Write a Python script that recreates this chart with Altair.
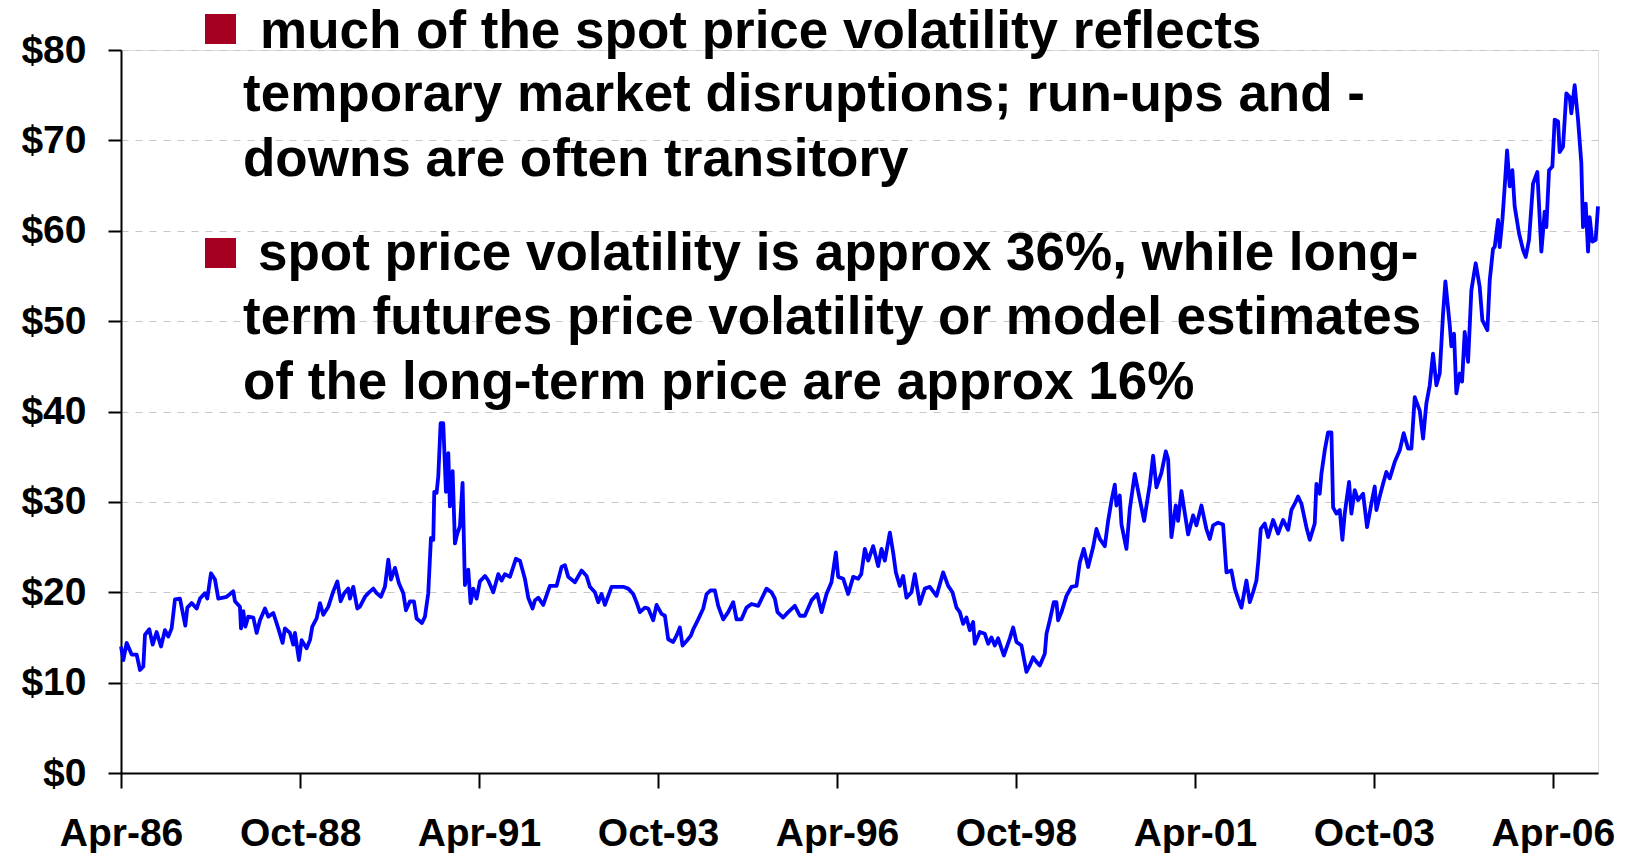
import altair as alt
import pandas as pd

# ---- data (months since Apr-1986, spot price $/bbl) ----
# months were read with a 6.0 px/month ruler; the reference axis measures 5.967 px/month
months = [
    0.0, 0.39, 0.94, 1.78, 2.61, 3.17, 3.72, 4.0, 4.72, 5.28,
    5.94, 6.67, 7.33, 7.89, 8.44, 9.0, 9.83, 10.72, 11.06, 11.78,
    12.61, 13.17, 14.0, 14.39, 15.0, 15.67, 16.22, 17.61, 18.72, 19.0,
    19.83, 20.0, 20.39, 20.72, 21.22, 22.06, 22.61, 23.17, 24.0, 24.56,
    25.39, 26.22, 26.94, 27.33, 28.17, 28.72, 29.0, 29.67, 30.11, 30.94,
    31.5, 31.89, 32.61, 33.17, 33.72, 34.56, 35.39, 36.06, 36.61, 37.22,
    37.89, 38.17, 38.72, 39.39, 39.83, 40.67, 41.22, 42.06, 42.61, 43.33,
    44.0, 44.56, 45.0, 45.67, 46.33, 47.06, 47.5, 48.17, 48.83, 49.28,
    50.17, 50.67, 51.22, 51.67, 52.06, 52.22, 52.61, 52.89, 53.28, 53.72,
    54.17, 54.56, 54.83, 55.28, 55.67, 56.06, 56.5, 56.94, 57.33, 57.89,
    58.28, 58.72, 59.28, 59.83,
    60.67, 61.22, 62.06, 62.89, 63.44, 64.0, 64.83, 65.83, 66.5, 67.33,
    67.89, 68.61, 69.0, 69.56, 70.39, 71.5, 72.61, 73.44, 74.0, 74.56,
    75.67, 76.78, 77.61, 78.17, 79.0, 79.56, 80.11, 80.67, 81.78, 83.72,
    84.56, 85.39, 85.94, 86.5, 87.33, 87.89, 88.72, 89.28, 90.11, 90.67,
    91.22, 92.06, 92.61, 93.17, 93.61, 94.28, 95.0, 95.39, 96.22, 97.06,
    97.61, 98.28, 99.0, 99.56, 100.39, 101.22, 102.06, 102.61, 103.44, 104.28,
    105.11, 106.22, 107.61, 108.44, 109.0, 109.44, 110.39, 111.22, 112.33, 113.17,
    114.0, 115.11, 116.06, 116.78, 117.61, 118.44, 119.17, 119.56, 120.39, 121.22,
    122.06, 122.89, 123.4,
    124.0, 124.56, 125.39, 126.22, 126.78, 127.33, 128.17, 128.72, 129.17, 129.83,
    130.39, 130.94, 131.78, 132.33, 133.17, 134.0, 134.83, 135.94, 137.06, 137.89,
    138.61, 139.28, 139.83, 140.39, 140.94, 141.5, 142.06, 142.33, 143.17, 144.0,
    144.56, 145.11, 145.67, 146.22, 147.17, 148.17, 148.72, 149.28, 150.11, 150.94,
    151.5, 152.06, 152.61, 153.17, 154.0, 154.28, 154.83, 155.5, 155.94, 156.22,
    156.78, 157.61, 158.44, 159.28, 159.83, 160.5, 161.22, 162.06, 162.61, 163.17,
    164.0, 164.56, 165.11, 165.67, 165.94, 166.5, 166.78, 167.61, 168.17, 169.0,
    169.83, 170.56, 171.5, 172.06, 172.61, 173.44, 174.17, 174.56, 175.11, 175.83,
    176.22, 176.78, 177.33, 177.89, 178.72, 179.28, 180.11, 180.94, 181.5, 182.06,
    182.89, 183.72, 184.28, 185.11, 185.67, 186.22, 186.78, 187.61, 188.17, 188.72,
    189.28, 189.6, 190.0,
    190.67, 191.22, 192.06, 192.89, 193.72, 194.56, 195.11, 195.67, 196.22, 196.78,
    197.61, 198.17, 199.0, 199.28, 199.83, 200.11, 200.67, 201.22, 201.78, 202.06,
    202.61, 203.17, 203.61, 204.0, 204.72, 205.11, 205.67, 206.22, 207.06, 207.72,
    208.44, 209.0, 209.28, 209.83, 210.39, 210.94, 211.5, 212.33, 213.17, 213.83,
    214.56, 215.11, 215.67, 216.5, 217.06, 217.61, 218.17, 218.72, 219.28, 219.83,
    220.39, 220.78, 221.5, 221.78, 222.22, 222.61, 223.17, 223.56, 224.0, 224.56,
    225.11, 225.83, 226.5, 226.94, 227.78, 228.17, 228.72, 229.0, 229.56, 229.83,
    230.28, 230.67, 231.06, 231.5, 231.94, 232.33, 233.06, 233.72, 234.17, 234.72,
    235.39, 236.11, 236.78, 237.33, 237.61, 238.06, 238.61, 239.0, 239.56, 239.83,
    240.39, 240.94, 241.5, 241.78, 242.33, 242.89, 243.44, 243.72, 244.17, 244.56,
    244.83, 245.28, 245.83, 246.22,
]

prices = [
    14.0, 12.5, 14.4, 13.1, 13.1, 11.4, 11.8, 15.3, 15.9, 14.2,
    15.6, 14.0, 15.8, 15.1, 16.0, 19.2, 19.3, 16.3, 18.3, 18.8,
    18.2, 19.3, 19.9, 19.3, 22.1, 21.4, 19.3, 19.5, 20.1, 19.0,
    18.4, 16.0, 17.9, 16.2, 17.3, 17.2, 15.5, 16.9, 18.2, 17.3,
    17.7, 16.0, 14.4, 16.0, 15.5, 14.2, 15.5, 12.5, 14.7, 13.8,
    14.7, 16.2, 17.1, 18.8, 17.5, 18.4, 20.1, 21.2, 19.0, 19.9,
    20.4, 19.3, 20.6, 18.2, 18.4, 19.5, 19.9, 20.4, 19.9, 19.5,
    20.6, 23.6, 21.4, 22.7, 21.0, 19.9, 18.0, 19.0, 19.0, 17.1,
    16.6, 17.3, 19.9, 26.0, 25.8, 31.1, 31.0, 32.8, 38.7, 38.7,
    31.1, 35.4, 29.5, 33.4, 25.4, 26.5, 27.3, 32.1, 20.8, 22.5,
    18.8, 20.4, 19.3, 21.2,
    21.8, 21.3, 20.0, 22.0, 21.3, 22.0, 21.7, 23.7, 23.5, 21.5,
    19.4, 18.2, 19.1, 19.4, 18.6, 20.7, 20.7, 22.8, 23.0, 21.7,
    21.1, 22.4, 21.8, 20.6, 20.0, 18.9, 19.8, 18.6, 20.6, 20.6,
    20.4, 19.8, 18.9, 17.8, 18.3, 18.2, 16.9, 18.6, 17.6, 17.4,
    14.8, 14.5, 15.2, 16.1, 14.1, 14.6, 15.2, 15.9, 17.0, 18.2,
    19.8, 20.2, 20.2, 18.5, 17.0, 17.8, 18.9, 17.0, 17.0, 18.3,
    18.7, 18.5, 20.4, 20.0, 19.3, 17.8, 17.2, 17.8, 18.5, 17.4,
    17.4, 19.1, 19.8, 17.8, 19.8, 21.1, 24.4, 21.7, 21.5, 19.8,
    21.7, 21.5, 22.0,
    24.8, 23.5, 25.1, 22.9, 24.8, 23.5, 26.6, 24.4, 22.2, 20.7,
    21.8, 19.4, 20.0, 22.0, 18.7, 20.4, 20.6, 19.6, 22.2, 20.7,
    20.0, 18.3, 17.8, 16.5, 17.2, 15.8, 16.7, 14.3, 15.6, 15.4,
    14.3, 15.0, 14.1, 14.9, 13.0, 14.9, 16.1, 14.5, 14.1, 11.2,
    11.9, 12.8, 12.3, 11.9, 13.2, 15.4, 16.9, 18.9, 18.9, 16.9,
    17.8, 19.6, 20.6, 20.7, 23.3, 24.8, 22.8, 25.0, 27.0, 25.9,
    25.1, 27.9, 30.1, 31.9, 29.6, 30.7, 27.5, 24.8, 29.2, 33.1,
    30.3, 27.9, 31.9, 35.1, 31.6, 33.2, 35.6, 34.7, 26.1, 29.6,
    27.9, 31.2, 28.8, 26.4, 28.5, 27.4, 29.6, 27.0, 25.9, 27.4,
    27.7, 27.5, 22.2, 22.4, 20.4, 19.3, 18.3, 21.3, 18.9, 20.0,
    21.3, 23.5, 27.0,
    27.6, 26.1, 28.0, 26.5, 28.0, 26.9, 29.1, 29.8, 30.6, 29.8,
    27.2, 25.8, 27.6, 32.0, 30.9, 33.1, 35.7, 37.7, 37.7, 29.4,
    28.7, 29.1, 25.8, 28.7, 32.2, 28.7, 31.3, 30.2, 30.9, 27.2,
    29.8, 31.7, 29.1, 30.6, 32.0, 33.3, 32.6, 34.4, 35.7, 37.6,
    35.9, 35.9, 41.6, 40.1, 37.0, 40.9, 42.9, 46.4, 42.9, 44.2,
    50.8, 54.4, 49.6, 47.2, 48.6, 42.0, 44.2, 43.3, 48.8, 45.5,
    53.4, 56.4, 53.8, 50.1, 49.0, 54.5, 58.0, 58.2, 61.2, 58.2,
    61.2, 64.9, 68.9, 64.9, 66.7, 62.7, 59.7, 57.9, 57.1, 59.0,
    65.2, 66.5, 57.7, 62.1, 60.4, 66.7, 67.1, 72.3, 72.1, 68.7,
    69.3, 75.2, 74.8, 73.0, 76.1, 72.3, 67.5, 60.4, 63.0, 57.7,
    61.5, 58.8, 59.0, 62.7,
]

assert len(months) == len(prices)

# axis ticks
x_tick_dates = [(1986, 4), (1988, 10), (1991, 4), (1993, 10), (1996, 4),
                (1998, 10), (2001, 4), (2003, 10), (2006, 4)]
y_ticks = [0, 10, 20, 30, 40, 50, 60, 70, 80]

# annotation text
bullet_1 = ["much of the spot price volatility reflects",
            "temporary market disruptions; run-ups and -",
            "downs are often transitory"]
bullet_2 = ["spot price volatility is approx 36%, while long-",
            "term futures price volatility or model estimates",
            "of the long-term price are approx 16%"]

# ---- build table ----
RULER = 6.0 / 5.967          # reading-ruler calibration (px/month)
DAYS_PER_MONTH = 30.436875
base = pd.Timestamp("1986-04-01")
dates = [(base + pd.Timedelta(days=m * RULER * DAYS_PER_MONTH)).strftime("%Y-%m-%dT%H:%M:%S")
         for m in months]
df = pd.DataFrame({"date": dates, "price": prices})

FONT = "Liberation Sans, Arial, sans-serif"
W, H = 1477, 723

line = alt.Chart(df).mark_line(color="#0000FF", strokeWidth=3.8, strokeJoin="round").encode(
    x=alt.X("date:T", title="",
            scale=alt.Scale(nice=False),
            axis=alt.Axis(values=[alt.DateTime(year=y, month=mo, date=1) for y, mo in x_tick_dates],
                          format="%b-%y", grid=False,
                          domainColor="black", domainWidth=2,
                          tickColor="black", tickWidth=2, tickSize=15,
                          labelFont=FONT, labelFontSize=39, labelFontWeight="bold",
                          labelColor="black", labelPadding=26,
                          labelFlush=False, labelOverlap=False, labelBound=False)),
    y=alt.Y("price:Q", title="",
            scale=alt.Scale(domain=[0, 80], nice=False, zero=True),
            axis=alt.Axis(values=y_ticks, labelExpr="'$' + datum.value",
                          grid=True, gridColor="#C8C8C8", gridDash=[7, 7], gridWidth=1,
                          domainColor="black", domainWidth=2,
                          tickColor="black", tickWidth=2, tickSize=13,
                          labelFont=FONT, labelFontSize=39, labelFontWeight="bold",
                          labelColor="black", labelPadding=22,
                          labelOverlap=False, labelBound=False)),
)

one = pd.DataFrame({"k": [0]})


def text_line(txt, x, y):
    return alt.Chart(one).mark_text(
        text=txt, font=FONT, fontSize=53, fontWeight="bold", color="black",
        align="left", baseline="alphabetic",
    ).encode(x=alt.value(x), y=alt.value(y))


def bullet(y_top):
    return alt.Chart(one).mark_rect(color="#A50021").encode(
        x=alt.value(84), x2=alt.value(115), y=alt.value(y_top), y2=alt.value(y_top + 30))


layers = [line,
          bullet(-36),
          text_line(bullet_1[0], 139, -2),
          text_line(bullet_1[1], 122, 61),
          text_line(bullet_1[2], 122, 126),
          bullet(188),
          text_line(bullet_2[0], 137, 220),
          text_line(bullet_2[1], 122, 284),
          text_line(bullet_2[2], 122, 349)]

chart = alt.layer(*layers).properties(
    width=W, height=H,
    autosize=alt.AutoSizeParams(type="none"),
    padding={"left": 113, "top": 42, "right": 24, "bottom": 80},
).configure_view(strokeWidth=0).configure(background="white")

chart.save("out.html", embed_options={"renderer": "svg", "actions": False})
